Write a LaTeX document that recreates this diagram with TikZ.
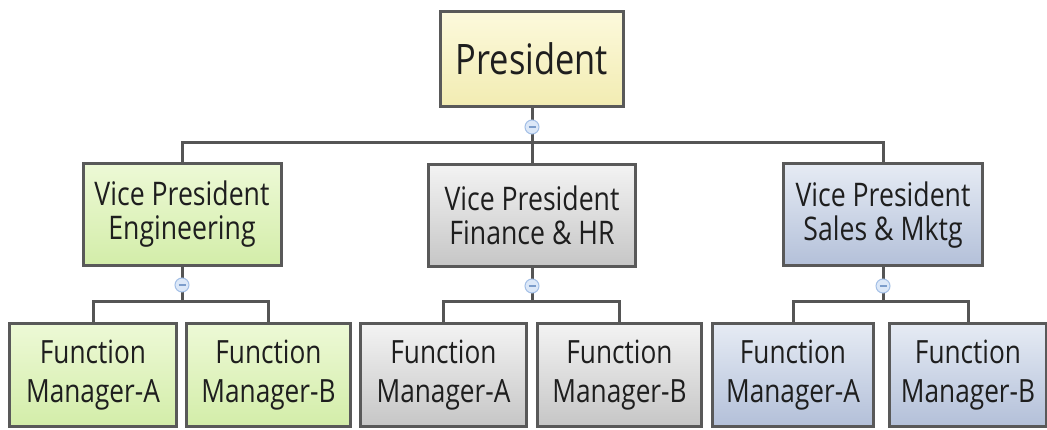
\documentclass[tikz,border=0pt]{standalone}
\usepackage{fontspec}
\setmainfont[FakeStretch=0.82]{Open Sans}
\definecolor{boxline}{HTML}{595959}
\definecolor{conn}{HTML}{555555}
\definecolor{txt}{HTML}{1E1E1E}
\definecolor{yelA}{HTML}{FCF9DC}
\definecolor{yelB}{HTML}{F2ECB2}
\definecolor{grnA}{HTML}{EDF9D6}
\definecolor{grnB}{HTML}{D3EDA9}
\definecolor{gryA}{HTML}{F3F3F3}
\definecolor{gryB}{HTML}{C6C6C6}
\definecolor{bluA}{HTML}{E6EBF4}
\definecolor{bluB}{HTML}{B3C0D9}
\definecolor{icf}{HTML}{DCE8F8}
\definecolor{icb}{HTML}{A3BFE6}
\definecolor{icm}{HTML}{7C9DCB}
\begin{document}
\begin{tikzpicture}[x=1pt,y=-1pt,
  box/.style={draw=boxline, line width=3pt, inner sep=0pt, align=center, text=txt},
  pres/.style={box, top color=yelA, bottom color=yelB, minimum width=183pt, minimum height=95pt, font=\fontsize{42}{48}\selectfont},
  vp/.style={box, minimum height=102pt, font=\fontsize{32.5}{34}\selectfont},
  fm/.style={box, minimum height=102pt, font=\fontsize{32}{39}\selectfont},
  green/.style={top color=grnA, bottom color=grnB},
  grey/.style={top color=gryA, bottom color=gryB},
  blue/.style={top color=bluA, bottom color=bluB},
  conn/.style={draw=conn, line width=3pt},
  icon/.style={circle, draw=icb, fill=icf, line width=1pt, minimum size=14pt, inner sep=0pt,
    path picture={\draw[icm, line width=1.6pt] ([xshift=-3.5pt]path picture bounding box.center) -- ([xshift=3.5pt]path picture bounding box.center);}}
]
\useasboundingbox (0,0) rectangle (1047,430);
\fill[white] (0,0) rectangle (1047,430);

% nodes
\node[pres] (pres) at (532,59) {President};

\node[vp, green, minimum width=198pt] (vpE) at (182,214.5) {Vice President\\Engineering};
\node[vp, grey,  minimum width=207pt] (vpF) at (532,215.5) {Vice President\\Finance \& HR};
\node[vp, blue,  minimum width=199pt] (vpS) at (883,215) {Vice President\\Sales \& Mktg};

\node[fm, green, minimum width=167pt] (eA) at (93,375) {Function\\Manager-A};
\node[fm, green, minimum width=164pt] (eB) at (268.5,375) {Function\\Manager-B};
\node[fm, grey,  minimum width=166pt] (fA) at (443.5,375) {Function\\Manager-A};
\node[fm, grey,  minimum width=164pt] (fB) at (619.5,375) {Function\\Manager-B};
\node[fm, blue,  minimum width=161pt] (sA) at (793,375) {Function\\Manager-A};
\node[fm, blue,  minimum width=157pt] (sB) at (968,375) {Function\\Manager-B};

% junctions
\coordinate (j0) at (532,143);
\coordinate (jE) at (182,302);
\coordinate (jF) at (532,302);
\coordinate (jS) at (883,302);

% connectors
\draw[conn] (pres.south) -- (j0);
\draw[conn] (vpE.north) |- (j0) -| (vpS.north);
\draw[conn] (j0) -- (vpF.north);

\draw[conn] (vpE.south) -- (jE);
\draw[conn] (eA.north) |- (jE) -| (eB.north);
\draw[conn] (vpF.south) -- (jF);
\draw[conn] (fA.north) |- (jF) -| (fB.north);
\draw[conn] (vpS.south) -- (jS);
\draw[conn] (sA.north) |- (jS) -| (sB.north);

% collapse icons
\node[icon] (i0) at (532,127) {};
\node[icon] (iE) at (182,285) {};
\node[icon] (iF) at (532,286) {};
\node[icon] (iS) at (883,286) {};
\end{tikzpicture}
\end{document}
